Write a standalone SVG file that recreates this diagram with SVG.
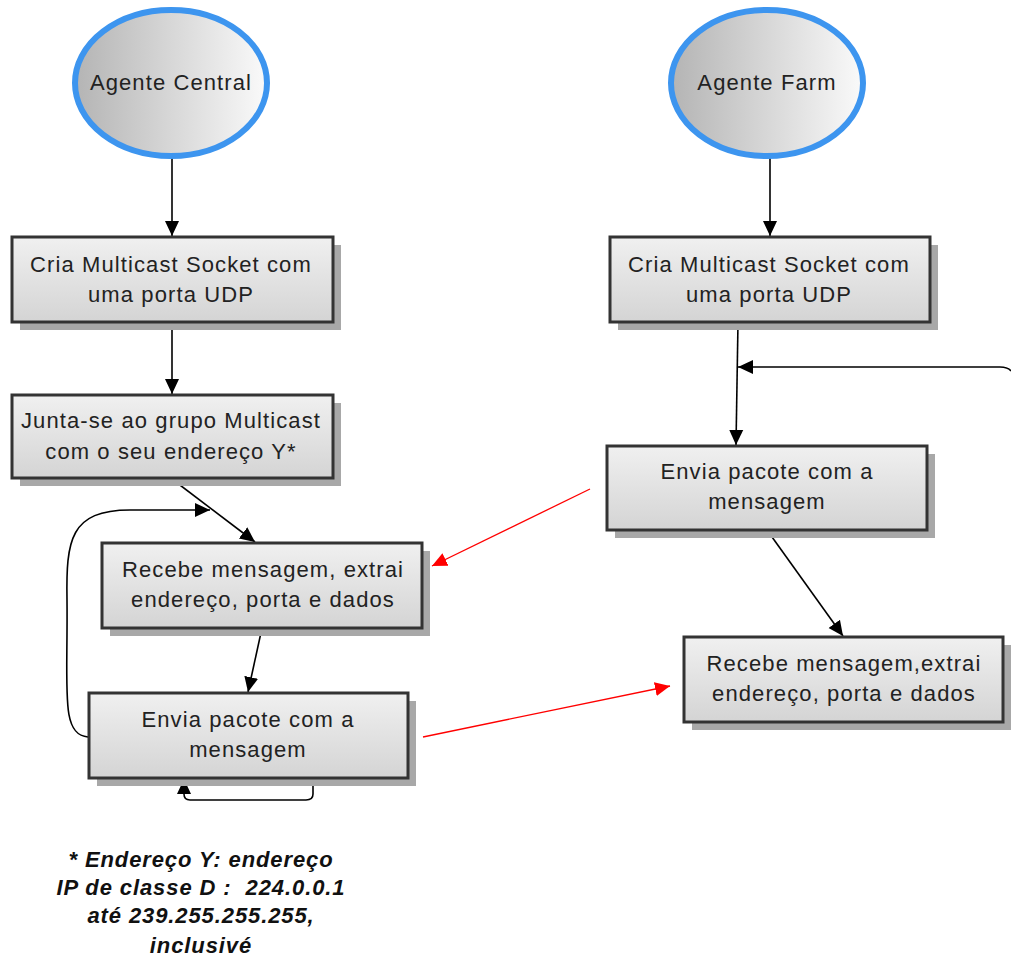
<svg xmlns="http://www.w3.org/2000/svg" width="1011" height="962" viewBox="0 0 1011 962">
<defs>
<linearGradient id="eg" x1="0" y1="0" x2="1" y2="0">
<stop offset="0" stop-color="#b4b4b4"/><stop offset="1" stop-color="#fafafa"/>
</linearGradient>
<linearGradient id="bg" x1="0" y1="0" x2="0" y2="1">
<stop offset="0" stop-color="#f0f0f0"/><stop offset="1" stop-color="#d4d4d4"/>
</linearGradient>
<marker id="ab" markerWidth="16" markerHeight="16" refX="15" refY="8" orient="auto" markerUnits="userSpaceOnUse">
<path d="M0,1 L15,8 L0,15 Z" fill="#000"/>
</marker>
<marker id="ar" markerWidth="16" markerHeight="16" refX="15" refY="8" orient="auto" markerUnits="userSpaceOnUse">
<path d="M0,1 L15,8 L0,15 Z" fill="#f00"/>
</marker>
<style>
.sh{fill:#a8a8a8}
.bx{fill:url(#bg);stroke:#333;stroke-width:3}
.el{fill:url(#eg);stroke:#3d95ef;stroke-width:6}
.t{font-family:"Liberation Sans",Arial,sans-serif;font-size:22px;letter-spacing:1.1px;fill:#222;text-anchor:middle}
.c{fill:none;stroke:#000;stroke-width:1.6}
.r{fill:none;stroke:#f00;stroke-width:1.3}
.fn{font-family:"Liberation Sans",Arial,sans-serif;font-size:22px;letter-spacing:0.9px;font-weight:bold;font-style:italic;fill:#111;text-anchor:middle}
</style>
</defs>
<rect width="1011" height="962" fill="#fff"/>
<g id="connectors">
<path class="c" d="M172,158 L172,236" marker-end="url(#ab)"/>
<path class="c" d="M172,322 L172,394" marker-end="url(#ab)"/>
<path class="c" d="M172,479 L255,542" marker-end="url(#ab)"/>
<path class="c" d="M88,737 C60,735 68,690 67,600 C66,540 70,510 130,510 L210,510" marker-end="url(#ab)"/>
<path class="c" d="M262,628 L248,692" marker-end="url(#ab)"/>
<path class="c" d="M313,778 L313,794 Q313,800 306,800 L190,800 Q184,800 184,794 L184,779" marker-end="url(#ab)"/>
<path class="c" d="M770,158 L770,236" marker-end="url(#ab)"/>
<path class="c" d="M738,322 L736,445" marker-end="url(#ab)"/>
<path class="c" d="M1011,371 Q1008,367 1000,367 L738,367" marker-end="url(#ab)"/>
<path class="c" d="M767,530 L843,636" marker-end="url(#ab)"/>
<path class="c" d="M1003,682 L1011,682"/>
<path class="r" d="M590,489 L432,566" marker-end="url(#ar)"/>
<path class="r" d="M423,737 L670,686" marker-end="url(#ar)"/>
</g>
<g id="agente-central">
<ellipse class="el" cx="171" cy="83" rx="96" ry="73"/>
<text class="t" x="171" y="90">Agente Central</text>
</g>
<g id="agente-farm">
<ellipse class="el" cx="767" cy="83" rx="96" ry="73"/>
<text class="t" x="767" y="90">Agente Farm</text>
</g>
<g id="cria-left">
<rect class="sh" x="20" y="245" width="321" height="85"/>
<rect class="bx" x="12" y="237" width="321" height="85"/>
<text class="t" x="171" y="272">Cria Multicast Socket com</text>
<text class="t" x="171" y="302">uma porta UDP</text>
</g>
<g id="junta-left">
<rect class="sh" x="20" y="403" width="321" height="83"/>
<rect class="bx" x="12" y="395" width="321" height="83"/>
<text class="t" x="171" y="428">Junta-se ao grupo Multicast</text>
<text class="t" x="171" y="459">com o seu endereço Y*</text>
</g>
<g id="recebe-left">
<rect class="sh" x="110" y="551" width="320" height="85"/>
<rect class="bx" x="102" y="543" width="320" height="85"/>
<text class="t" x="263" y="577">Recebe mensagem, extrai</text>
<text class="t" x="263" y="607">endereço, porta e dados</text>
</g>
<g id="envia-left">
<rect class="sh" x="97" y="701" width="319" height="85"/>
<rect class="bx" x="89" y="693" width="319" height="85"/>
<text class="t" x="248" y="727">Envia pacote com a</text>
<text class="t" x="248" y="757">mensagem</text>
</g>
<g id="cria-right">
<rect class="sh" x="618" y="245" width="320" height="85"/>
<rect class="bx" x="610" y="237" width="320" height="85"/>
<text class="t" x="769" y="272">Cria Multicast Socket com</text>
<text class="t" x="769" y="302">uma porta UDP</text>
</g>
<g id="envia-right">
<rect class="sh" x="615" y="454" width="320" height="84"/>
<rect class="bx" x="607" y="446" width="320" height="84"/>
<text class="t" x="767" y="479">Envia pacote com a</text>
<text class="t" x="767" y="509">mensagem</text>
</g>
<g id="recebe-right">
<rect class="sh" x="692" y="645" width="319" height="85"/>
<rect class="bx" x="684" y="637" width="319" height="85"/>
<text class="t" x="844" y="671">Recebe mensagem,extrai</text>
<text class="t" x="844" y="701">endereço, porta e dados</text>
</g>
<g id="nota">
<text class="fn" x="201" y="867">* Endereço Y: endereço</text>
<text class="fn" x="201" y="895" xml:space="preserve">IP de classe D :  224.0.0.1</text>
<text class="fn" x="201" y="923">até 239.255.255.255,</text>
<text class="fn" x="201" y="953">inclusivé</text>
</g>
</svg>
